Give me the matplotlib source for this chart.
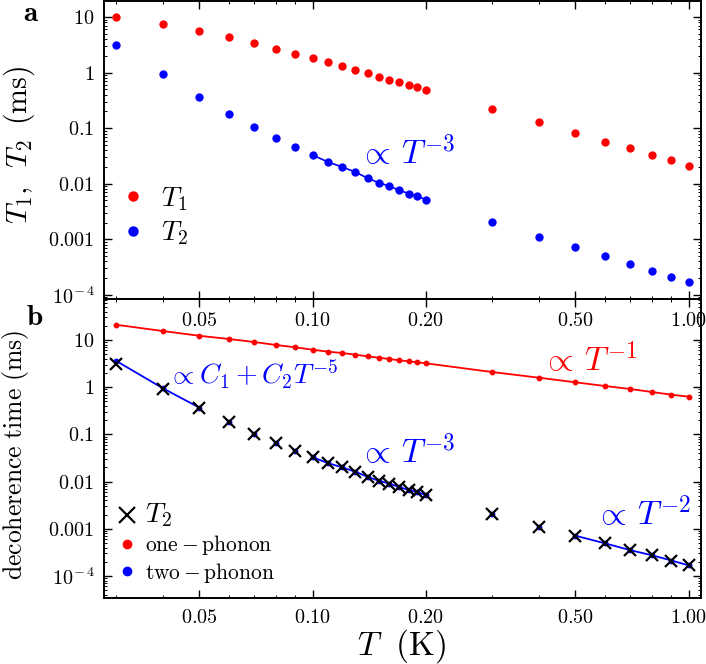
import matplotlib
matplotlib.use('Agg')
import matplotlib.pyplot as plt
from matplotlib.ticker import FixedLocator, FixedFormatter, NullFormatter

plt.rcParams['mathtext.fontset'] = 'cm'
plt.rcParams['font.family'] = 'serif'
plt.rcParams['font.serif'] = ['cmr10', 'DejaVu Serif']
plt.rcParams['axes.unicode_minus'] = False

# ---------------- data ----------------
T = [0.03, 0.04, 0.05, 0.06, 0.07, 0.08, 0.09,
     0.10, 0.11, 0.12, 0.13, 0.14, 0.15, 0.16, 0.17, 0.18, 0.19, 0.20,
     0.3, 0.4, 0.5, 0.6, 0.7, 0.8, 0.9, 1.0]

T1 = [10.1, 7.4, 5.6, 4.35, 3.39, 2.72, 2.21,
      1.84, 1.53, 1.30, 1.11, 0.97, 0.845, 0.746, 0.667, 0.597, 0.542, 0.485,
      0.22, 0.128, 0.082, 0.057, 0.0434, 0.0329, 0.0267, 0.0213]

T2 = [3.16, 0.93, 0.358, 0.179, 0.104, 0.066, 0.0453,
      0.0329, 0.0246, 0.0200, 0.0162, 0.01265, 0.0104, 0.00906, 0.00766, 0.00665, 0.00597, 0.00519,
      0.00205, 0.001096, 0.000714, 0.000491, 0.000352, 0.000274, 0.000213, 0.000168]

one_phonon = [21.1, 15.5, 12.3, 10.5, 9.07, 7.84, 7.0,
              6.23, 5.66, 5.3, 4.89, 4.51, 4.22, 3.96, 3.71, 3.54, 3.37, 3.21,
              2.10, 1.59, 1.27, 1.06, 0.916, 0.79, 0.694, 0.63]

two_phonon = [3.64, 0.95, 0.37, 0.179, 0.104, 0.066, 0.0453,
              0.0329, 0.0246, 0.0200, 0.0162, 0.01265, 0.0104, 0.00906, 0.00766, 0.00665, 0.00597, 0.00519,
              0.00205, 0.001096, 0.000714, 0.000491, 0.000352, 0.000274, 0.000213, 0.000168]

# index ranges for fitted segments
seg_low = (0, 3)      # 0.03 - 0.05
seg_mid = (7, 18)     # 0.10 - 0.20
seg_high = (20, 26)   # 0.5 - 1.0

x_major = [0.05, 0.10, 0.20, 0.50, 1.00]
x_major_labels = ['0.05', '0.10', '0.20', '0.50', '1.00']
x_minor = [0.03, 0.04, 0.06, 0.07, 0.08, 0.09, 0.3, 0.4, 0.6, 0.7, 0.8, 0.9]
y_major = [10, 1, 0.1, 0.01, 0.001, 1e-4]
y_major_labels = [r'$\mathrm{10}$', r'$\mathrm{1}$', r'$\mathrm{0.1}$', r'$\mathrm{0.01}$',
                  r'$\mathrm{0.001}$', r'$\mathrm{10}^{-\,4}$']

W, H = 706, 664
fig = plt.figure(figsize=(W / 100, H / 100), dpi=100)

left_px, right_px = 104, 700.5
top_px, mid_px, bot_px = 1, 299, 598
axw = (right_px - left_px) / W
ax_b = fig.add_axes([left_px / W, 1 - bot_px / H, axw, (bot_px - mid_px) / H])
ax_a = fig.add_axes([left_px / W, 1 - mid_px / H, axw, (mid_px - top_px) / H])
ax_a.set_zorder(3)
ax_a.patch.set_alpha(0)

xlim = (0.0279, 1.075)

def style(ax, ylim, xpad):
    ax.set_xscale('log')
    ax.set_yscale('log')
    ax.set_xlim(*xlim)
    ax.set_ylim(*ylim)
    ax.xaxis.set_major_locator(FixedLocator(x_major))
    ax.xaxis.set_major_formatter(FixedFormatter([r'$\mathrm{%s}$' % s for s in x_major_labels]))
    ax.xaxis.set_minor_locator(FixedLocator(x_minor))
    ax.xaxis.set_minor_formatter(NullFormatter())
    ax.yaxis.set_major_locator(FixedLocator(y_major))
    ax.yaxis.set_major_formatter(FixedFormatter(y_major_labels))
    ax.tick_params(which='both', direction='in', top=True, right=True, labelsize=14.5, width=1.0)
    ax.tick_params(which='major', length=5.5)
    ax.tick_params(which='minor', length=2.5, width=0.7)
    ax.tick_params(axis='x', which='major', pad=xpad)
    ax.tick_params(axis='y', which='major', pad=7)
    for s in ax.spines.values():
        s.set_linewidth(1.4)

style(ax_a, (10 ** -4.075, 10 ** 1.29), 9)
style(ax_b, (10 ** -4.466, 10 ** 1.869), 8)

# ---------------- panel a ----------------
ax_a.plot(T, T1, 'o', color='#ff0000', ms=6, mec='none', label=r'$T_1$')
ax_a.plot(T, T2, 'o', color='#0000ff', ms=6, mec='none', label=r'$T_2$')
ax_a.plot(T[seg_mid[0]:seg_mid[1]], T2[seg_mid[0]:seg_mid[1]], '-', color='#0000ff', lw=1.2)
ax_a.text(0.428, 0.452, r'$\propto\, T^{-3}$', transform=ax_a.transAxes, color='#0000ff',
          fontsize=24, va='baseline', ha='left')
leg_a = ax_a.legend(loc='upper left', bbox_to_anchor=(0.030, 0.383), frameon=False,
                    borderpad=0, borderaxespad=0, handlelength=0.8, handletextpad=0.6,
                    labelspacing=0.25, fontsize=20, markerscale=1.25)
ax_a.set_ylabel(r'$T_1,\ \,T_2\ \,(\mathrm{ms})$', fontsize=21.5)
ax_a.yaxis.set_label_coords(-0.113, 0.517)

# ---------------- panel b ----------------
ax_b.plot(T, one_phonon, '-', color='#ff0000', lw=1.3)
ax_b.plot(T, one_phonon, 'o', color='#ff0000', ms=4.2, mec='none', label=r'$\mathrm{one}-\mathrm{phonon}$')
for a, b in (seg_low, seg_mid, seg_high):
    ax_b.plot(T[a:b], two_phonon[a:b], '-', color='#0000ff', lw=1.3)
ax_b.plot(T, two_phonon, 'o', color='#0000ff', ms=4.2, mec='none', label=r'$\mathrm{two}-\mathrm{phonon}$')
ax_b.plot(T, T2, 'x', color='black', ms=8.5, mew=1.6, label=r'$T_2$')

ax_b.text(0.107, 0.715, r'$\propto C_1+C_2T^{-5}$', transform=ax_b.transAxes, color='#0000ff',
          fontsize=20, va='baseline', ha='left')
ax_b.text(0.735, 0.760, r'$\propto\, T^{-1}$', transform=ax_b.transAxes, color='#ff0000',
          fontsize=24, va='baseline', ha='left')
ax_b.text(0.428, 0.4525, r'$\propto\, T^{-3}$', transform=ax_b.transAxes, color='#0000ff',
          fontsize=24, va='baseline', ha='left')
ax_b.text(0.823, 0.244, r'$\propto\, T^{-2}$', transform=ax_b.transAxes, color='#0000ff',
          fontsize=24, va='baseline', ha='left')

handles, labels = ax_b.get_legend_handles_labels()
order = [2, 0, 1]
leg_b = ax_b.legend([handles[i] for i in order], [labels[i] for i in order],
                    loc='upper left', bbox_to_anchor=(0.022, 0.322), frameon=False,
                    borderpad=0, borderaxespad=0, handlelength=0.9, handletextpad=0.4,
                    labelspacing=0.17, fontsize=15.5)
leg_b.get_texts()[0].set_fontsize(20)
lh = leg_b.legend_handles
lh[0].set_markersize(11)
lh[1].set_markersize(7)
lh[2].set_markersize(7)

ax_b.set_ylabel(r'$\mathrm{decoherence\ time\ (ms)}$', fontsize=18.5)
ax_b.yaxis.set_label_coords(-0.122, 0.48)
ax_b.set_xlabel(r'$T\ \ (\mathrm{K})$', fontsize=24, labelpad=0)

fig.text(31 / W, 1 - 14 / H, r'$\mathbf{a}$', fontsize=21, ha='center', va='center')
fig.text(35 / W, 1 - 318 / H, r'$\mathbf{b}$', fontsize=21, ha='center', va='center')

fig.savefig('out.png', dpi=100)
